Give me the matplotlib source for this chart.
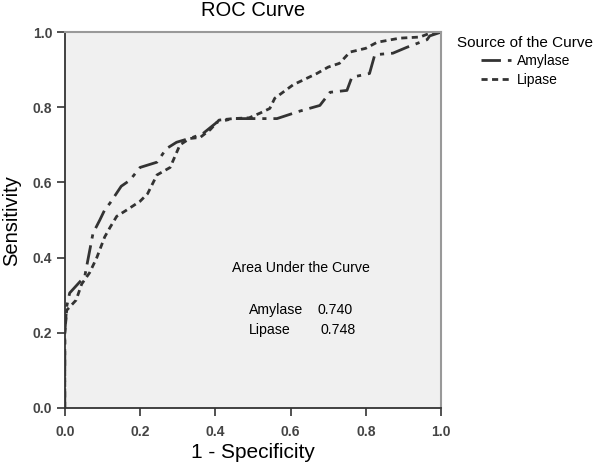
import numpy as np
import matplotlib.pyplot as plt
from matplotlib.lines import Line2D

plt.rcParams['font.family'] = ['Liberation Sans', 'DejaVu Sans']

# ROC curve points
amylase_fpr = [0.0, 0.0, 0.005, 0.013, 0.053, 0.075, 0.093, 0.106, 0.12, 0.15, 0.173, 0.2,
               0.245, 0.27, 0.297, 0.34, 0.367, 0.404, 0.447, 0.51, 0.564, 0.625, 0.678,
               0.705, 0.75, 0.763, 0.81, 0.824, 0.872, 0.91, 0.963, 0.97, 1.0]
amylase_tpr = [0.0, 0.2, 0.27, 0.306, 0.35, 0.465, 0.5, 0.527, 0.545, 0.59, 0.606, 0.64,
               0.654, 0.69, 0.707, 0.72, 0.73, 0.76, 0.77, 0.77, 0.77, 0.79, 0.805,
               0.84, 0.845, 0.88, 0.89, 0.94, 0.944, 0.96, 0.98, 0.99, 1.0]

lipase_fpr = [0.0, 0.0, 0.005, 0.03, 0.045, 0.066, 0.085, 0.106, 0.12, 0.138, 0.165, 0.2,
              0.22, 0.245, 0.28, 0.293, 0.306, 0.332, 0.36, 0.386, 0.41, 0.447, 0.49,
              0.52, 0.545, 0.558, 0.607, 0.67, 0.70, 0.73, 0.758, 0.80, 0.83, 0.89,
              0.944, 0.97, 1.0]
lipase_tpr = [0.0, 0.2, 0.26, 0.287, 0.33, 0.36, 0.40, 0.455, 0.48, 0.51, 0.527, 0.55,
              0.57, 0.62, 0.64, 0.67, 0.70, 0.717, 0.72, 0.74, 0.766, 0.77, 0.772,
              0.785, 0.797, 0.824, 0.86, 0.89, 0.907, 0.917, 0.947, 0.957, 0.973, 0.984,
              0.987, 0.997, 1.0]

auc_labels = ['Amylase', 'Lipase']
auc_values = [0.740, 0.748]

fig = plt.figure(figsize=(6, 4.66), dpi=100)
ax = fig.add_axes([0.108, 0.1245, 0.627, 0.8065])
ax.set_facecolor('#f0f0f0')

amy_dashes = (7, 2.5, 1.5, 2.5)
lip_dashes = (2.2, 1.6)
ax.plot(amylase_fpr, amylase_tpr, color='#333333', lw=2, dashes=amy_dashes)
ax.plot(lipase_fpr, lipase_tpr, color='#333333', lw=2, dashes=lip_dashes)

ax.set_xlim(0, 1)
ax.set_ylim(0, 1)
ticks = np.arange(0, 1.01, 0.2)
ax.set_xticks(ticks)
ax.set_yticks(ticks)
ax.set_xticklabels([f'{t:.1f}' for t in ticks], fontsize=10, color='#444444', fontweight='bold')
ax.set_yticklabels([f'{t:.1f}' for t in ticks], fontsize=10, color='#444444', fontweight='bold')
ax.tick_params(direction='out', length=6, width=1.2, color='#333333')
ax.tick_params(axis='x', pad=6)
ax.tick_params(axis='y', pad=3)
for side in ['top', 'right']:
    ax.spines[side].set_color('#999999')
    ax.spines[side].set_linewidth(1.5)
for side in ['left', 'bottom']:
    ax.spines[side].set_color('#333333')
    ax.spines[side].set_linewidth(1.3)

fig.text(0.422, 1 - 11 / 466, 'ROC Curve', fontsize=14.5, ha='center', va='center')
ax.set_xlabel('1 - Specificity', fontsize=15)
ax.xaxis.set_label_coords(0.5, -0.092)
ax.set_ylabel('Sensitivity', fontsize=14.5)
ax.yaxis.set_label_coords(-0.115, 0.5)

ax.text(0.444, 0.372, 'Area Under the Curve', fontsize=10.2, va='center', transform=ax.transAxes)
for i, (name, val) in enumerate(zip(auc_labels, auc_values)):
    y = 0.261 - i * 0.054
    ax.text(0.489, y, name, fontsize=10.2, va='center', transform=ax.transAxes)
    ax.text(0.673 + i * 0.008, y, f'{val:.3f}', fontsize=10.2, va='center',
            transform=ax.transAxes)

fig.text(457 / 600, 1 - 43 / 466, 'Source of the Curve', fontsize=11, va='center')
handles = [Line2D([], [], color='#333333', lw=2, dashes=amy_dashes),
           Line2D([], [], color='#333333', lw=2, dashes=lip_dashes)]
fig.legend(handles, auc_labels, loc='upper left', bbox_to_anchor=(481 / 600, 1 - 54 / 466),
           frameon=False, fontsize=10, handlelength=2.15, handletextpad=0.45,
           labelspacing=0.37, borderpad=0, borderaxespad=0)

fig.savefig('out.png', dpi=100)
